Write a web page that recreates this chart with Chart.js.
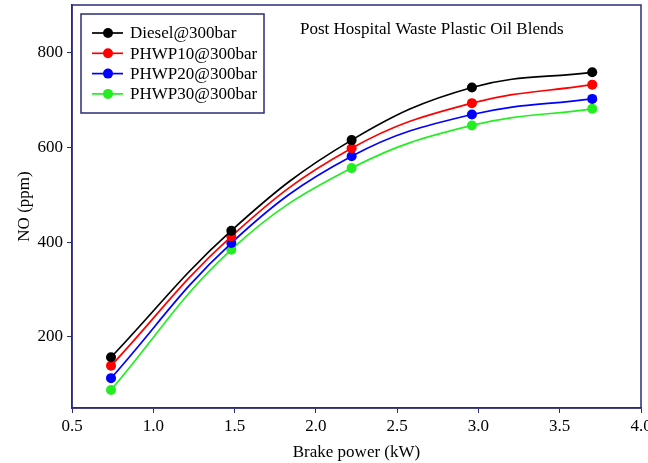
<!DOCTYPE html>
<html>
<head>
<meta charset="utf-8">
<script src="https://cdn.jsdelivr.net/npm/chart.js@4"></script>
<style>
  html, body { margin: 0; padding: 0; background: #fff; }
  #wrap { width: 648px; height: 463px; }
</style>
</head>
<body>
<div id="wrap"><canvas id="noChart" width="648" height="463"></canvas></div>
<script>
const brakePower = [0.74, 1.48, 2.22, 2.96, 3.70];
const seriesNames = ['Diesel@300bar', 'PHWP10@300bar', 'PHWP20@300bar', 'PHWP30@300bar'];
const diesel = [157, 424, 615, 726, 758];
const phwp10 = [139, 412, 598, 693, 732];
const phwp20 = [113, 398, 581, 669, 702];
const phwp30 = [88, 384, 556, 646, 681];
const xTicks = [0.5, 1.0, 1.5, 2.0, 2.5, 3.0, 3.5, 4.0];
const yTicks = [200, 400, 600, 800];
const chartTitle = 'Post Hospital Waste Plastic Oil Blends';

const colors = ['#000000', '#ff0000', '#0000ff', '#22ee22'];
const navy = '#2b2b7a';
const serif = '"Liberation Serif", "Times New Roman", serif';

const allSeries = [diesel, phwp10, phwp20, phwp30];

const datasets = allSeries.map((vals, i) => ({
    label: seriesNames[i],
    data: vals.map((v, j) => ({ x: brakePower[j], y: v })),
    borderColor: colors[i],
    backgroundColor: colors[i],
    borderWidth: 1.7,
    pointRadius: 5,
    pointBorderWidth: 0,
    tension: 0.4
}));

// frame, title and the boxed legend inside the plot
const decorations = {
    id: 'decorations',
    afterDraw(chart) {
        const { ctx, chartArea: a } = chart;
        ctx.save();
        ctx.strokeStyle = navy;
        ctx.lineWidth = 1.5;
        ctx.strokeRect(a.left, a.top, a.right - a.left, a.bottom - a.top);

        ctx.fillStyle = '#000';
        ctx.font = '17px ' + serif;
        ctx.textBaseline = 'middle';
        ctx.textAlign = 'left';
        ctx.fillText(chartTitle, 300, 30);

        // legend box
        ctx.strokeRect(81, 14, 183, 99);
        chart.data.datasets.forEach((ds, i) => {
            const y = 33 + i * 20.3;
            ctx.strokeStyle = ds.borderColor;
            ctx.lineWidth = 1.7;
            ctx.beginPath();
            ctx.moveTo(92, y);
            ctx.lineTo(123, y);
            ctx.stroke();
            ctx.fillStyle = ds.backgroundColor;
            ctx.beginPath();
            ctx.arc(108, y, 5, 0, Math.PI * 2);
            ctx.fill();
            ctx.fillStyle = '#000';
            ctx.fillText(ds.label, 130, y + 1);
        });
        ctx.restore();
    }
};

new Chart(document.getElementById('noChart'), {
    type: 'line',
    data: { datasets: datasets },
    options: {
        responsive: false,
        animation: false,
        layout: { padding: { left: 0, top: 4, right: 7, bottom: 0 } },
        plugins: {
            legend: { display: false },
            tooltip: { enabled: false }
        },
        scales: {
            x: {
                type: 'linear',
                min: 0.5,
                max: 4.0,
                afterBuildTicks: s => { s.ticks = xTicks.map(v => ({ value: v })); },
                afterFit: s => { s.height = 55; s.paddingRight = 0; s.paddingLeft = 0; },
                ticks: {
                    color: '#000',
                    font: { family: serif, size: 17 },
                    padding: 3,
                    maxRotation: 0,
                    callback: v => v.toFixed(1)
                },
                grid: { drawOnChartArea: false, drawTicks: true, tickLength: 5, color: navy },
                border: { color: navy, width: 1.5 },
                title: {
                    display: true,
                    text: 'Brake power (kW)',
                    color: '#000',
                    font: { family: serif, size: 17 },
                    padding: { top: 6, bottom: 0 }
                }
            },
            y: {
                min: 50,
                max: 900,
                afterBuildTicks: s => { s.ticks = yTicks.map(v => ({ value: v })); },
                afterFit: s => { s.width = 72; s.paddingTop = 0; s.paddingBottom = 0; },
                ticks: {
                    color: '#000',
                    font: { family: serif, size: 17 },
                    padding: 4
                },
                grid: { drawOnChartArea: false, drawTicks: true, tickLength: 5, color: navy },
                border: { color: navy, width: 1.5 },
                title: {
                    display: true,
                    text: 'NO (ppm)',
                    color: '#000',
                    font: { family: serif, size: 17 },
                    padding: { top: 14, bottom: 4 }
                }
            }
        }
    },
    plugins: [decorations]
});
</script>
</body>
</html>
